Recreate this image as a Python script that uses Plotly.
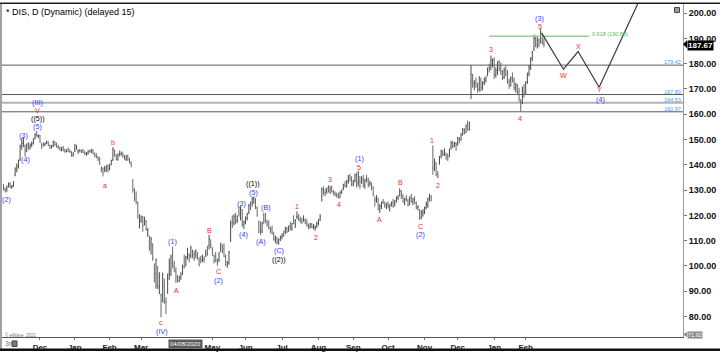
import numpy as np
import pandas as pd
import plotly.graph_objects as go

# ---------------- data ----------------
holidays = ["2019-11-28", "2019-12-25", "2020-01-01", "2020-01-20", "2020-02-17",
            "2020-04-10", "2020-05-25", "2020-07-03", "2020-09-07", "2020-11-26",
            "2020-12-25", "2021-01-01", "2021-01-18", "2021-02-15"]
first_day = "2019-10-30"
last_day = "2021-02-17"

opens = [
    # Oct 30 - Nov 29 2019
    131.0, 130.5, 130.3, 132.0, 132.4, 131.1, 131.8, 136.0, 138.0, 139.5, 142.0, 147.5, 148.5, 147.5, 146.0, 147.5, 147.0, 148.0, 148.5, 150.5, 152.0, 151.5,
    # Dec 2019
    151.5, 148.0, 148.2, 148.0, 148.8, 149.0, 147.5, 146.8, 147.5, 149.0, 148.5, 147.2, 146.8, 146.0, 147.0, 145.8, 145.3, 146.0, 145.5, 145.0, 143.8,
    # Jan 2020
    145.3, 146.4, 145.5, 145.8, 145.5, 145.5, 145.0, 144.4, 144.6, 145.4, 145.4, 145.8, 144.2, 143.8, 143.0, 142.4, 138.5, 138.0, 137.5, 138.2, 139.6,
    # Feb 2020
    138.5, 140.5, 142.0, 145.5, 143.5, 142.0, 144.5, 144.3, 144.0, 143.2, 142.3, 143.6, 141.8, 140.5, 134.0, 130.0, 126.5, 124.0, 115.5,
    # Mar 2020
    118.0, 119.0, 117.5, 117.5, 112.5, 109.5, 108.5, 108.0, 96.0, 97.0, 93.0, 92.0, 88.5, 86.0, 93.0, 86.0, 90.0, 97.0, 98.5, 101.0, 100.0, 98.0,
    # Apr 2020
    95.0, 94.0, 95.5, 97.5, 102.0, 100.5, 104.5, 104.0, 104.0, 105.5, 104.5, 104.5, 104.5, 102.0, 102.5, 102.5, 103.0, 104.0, 106.5, 108.0, 108.5,
    # May 2020
    106.5, 104.0, 103.5, 102.0, 102.5, 106.5, 107.5, 107.0, 103.5, 99.5, 101.0, 110.0, 117.0, 117.0, 119.5, 118.0, 121.5, 121.0, 122.0, 116.5,
    # Jun 2020
    117.5, 119.0, 121.0, 124.0, 125.0, 126.5, 126.0, 123.0, 117.0, 116.0, 113.5, 120.0, 119.0, 117.0, 117.5, 114.5, 114.5, 112.5, 110.5, 111.0, 109.0, 110.5,
    # Jul 2020
    111.5, 113.0, 113.5, 114.5, 114.0, 116.0, 115.0, 117.5, 116.5, 119.5, 119.0, 118.5, 118.0, 118.0, 118.0, 117.0, 116.0, 115.5, 116.5, 115.5, 115.0, 116.0,
    # Aug 2020
    116.8, 118.5, 127.5, 130.0, 129.0, 129.5, 131.0, 130.0, 131.0, 129.5, 128.8, 128.0, 127.8, 127.0, 129.0, 130.5, 132.0, 131.5, 133.5, 135.0, 134.0,
    # Sep 2020
    132.5, 134.0, 135.5, 133.0, 133.5, 133.0, 134.5, 132.0, 134.5, 134.0, 132.5, 131.5, 131.0, 126.0, 126.5, 126.5, 122.0, 123.5, 125.5, 124.5, 124.0,
    # Oct 2020
    124.5, 122.5, 124.5, 125.0, 124.5, 126.0, 127.0, 128.0, 129.5, 127.5, 124.5, 126.5, 126.0, 124.5, 127.0, 125.5, 126.5, 124.5, 123.0, 122.0, 119.0, 120.5,
    # Nov 2020
    121.5, 123.0, 124.0, 127.5, 127.5, 139.0, 139.5, 140.5, 136.5, 141.0, 143.5, 145.0, 144.5, 144.0, 143.5, 143.5, 147.0, 148.5, 147.5, 148.5,
    # Dec 2020
    148.5, 150.0, 150.0, 152.5, 153.5, 153.0, 155.5, 154.0, 173.0, 175.5, 172.0, 172.5, 171.5, 170.0, 173.5, 171.0, 172.5, 173.5, 175.5, 178.5, 178.0, 180.5,
    # Jan 2021
    181.5, 175.5, 176.5, 180.5, 178.5, 176.5, 174.5, 177.5, 176.5, 173.0, 171.5, 174.5, 173.5, 170.5, 171.0, 169.0, 165.0, 164.5, 169.0,
    # Feb 2021
    169.0, 173.0, 176.0, 178.5, 182.5, 185.5, 190.0, 187.5, 189.0, 189.0, 191.0, 188.0,
]
highs = [
    132.5, 131.0, 131.8, 133.0, 133.1, 132.0, 133.6, 139.0, 140.5, 142.0, 148.0, 150.5, 151.0, 148.0, 148.5, 149.0, 148.5, 149.2, 150.5, 152.5, 153.4, 152.0,
    151.8, 148.6, 148.9, 148.8, 149.6, 149.3, 148.0, 147.9, 149.6, 149.3, 148.8, 147.9, 147.2, 147.0, 147.4, 146.4, 146.0, 146.8, 146.1, 145.4, 145.0,
    148.2, 147.9, 146.0, 146.2, 146.1, 146.3, 145.5, 145.0, 145.8, 146.0, 146.3, 146.1, 144.9, 144.6, 143.5, 143.1, 139.4, 139.0, 139.5, 139.8, 140.2,
    140.3, 142.0, 147.0, 146.0, 144.2, 144.5, 145.6, 145.3, 144.9, 143.9, 143.8, 144.0, 142.8, 141.4, 134.3, 130.8, 129.5, 125.5, 120.5,
    120.0, 119.8, 119.5, 118.2, 115.0, 112.0, 111.5, 109.0, 101.0, 103.0, 100.0, 97.5, 89.0, 97.4, 95.0, 87.6, 97.0, 103.0, 104.5, 107.6, 102.0, 99.5,
    96.5, 96.0, 97.5, 100.5, 104.5, 104.0, 107.2, 105.0, 108.0, 106.5, 106.0, 106.5, 105.5, 103.5, 104.0, 104.5, 103.8, 106.5, 108.0, 112.3, 110.5,
    107.5, 104.5, 105.5, 103.0, 105.5, 109.2, 108.5, 109.0, 104.5, 102.0, 106.0, 118.0, 120.0, 120.5, 121.0, 120.0, 123.5, 123.8, 122.5, 118.0,
    119.5, 121.0, 124.5, 125.5, 127.3, 127.5, 126.8, 123.5, 118.0, 117.6, 117.5, 121.0, 121.0, 118.3, 118.0, 115.5, 116.0, 113.5, 112.0, 111.5, 110.8, 112.0,
    113.0, 114.0, 115.5, 115.5, 116.0, 117.5, 117.0, 120.0, 118.5, 121.6, 120.5, 119.5, 119.0, 120.0, 118.8, 118.5, 116.8, 117.0, 117.0, 116.5, 116.0, 117.5,
    118.5, 120.5, 131.0, 131.5, 130.5, 131.0, 132.0, 131.5, 131.8, 130.0, 129.5, 129.0, 129.0, 129.5, 130.2, 132.5, 133.5, 134.0, 136.0, 136.5, 135.5,
    134.0, 136.5, 137.0, 137.6, 135.5, 135.5, 136.0, 134.5, 136.0, 135.0, 133.8, 133.0, 131.5, 127.5, 128.0, 127.0, 124.5, 125.5, 126.5, 125.5, 125.0,
    125.5, 124.5, 125.5, 126.5, 126.0, 127.5, 128.0, 130.7, 130.0, 128.5, 127.0, 128.0, 126.5, 127.5, 128.5, 127.0, 127.5, 125.5, 124.0, 122.5, 122.0, 122.5,
    123.5, 125.5, 127.0, 128.5, 128.0, 147.7, 142.5, 141.0, 137.5, 143.5, 146.0, 145.8, 146.5, 144.8, 144.5, 146.5, 149.5, 149.5, 149.0, 149.0,
    151.0, 151.0, 152.5, 154.5, 154.5, 156.0, 157.5, 157.0, 179.4, 176.0, 173.5, 174.5, 172.5, 175.0, 174.5, 173.0, 174.5, 175.0, 178.5, 180.0, 183.2, 182.0,
    182.5, 178.5, 181.0, 181.5, 180.5, 177.5, 178.5, 179.0, 177.5, 174.0, 175.0, 176.5, 174.5, 172.5, 172.0, 170.5, 166.0, 171.0, 172.0,
    173.0, 176.5, 179.5, 182.5, 185.0, 191.5, 191.0, 190.5, 190.0, 193.7, 192.0, 190.0,
]
lows = [
    129.8, 129.0, 129.3, 131.0, 130.9, 130.5, 131.2, 135.5, 137.0, 138.5, 141.5, 146.0, 147.0, 143.2, 145.0, 146.0, 146.0, 147.0, 148.0, 150.0, 151.0, 150.5,
    148.6, 146.3, 147.2, 147.4, 148.2, 147.4, 146.2, 146.5, 147.0, 147.5, 146.8, 146.3, 145.6, 145.3, 145.4, 144.8, 144.9, 145.1, 144.7, 143.2, 143.2,
    145.0, 146.0, 144.3, 144.9, 144.6, 144.6, 143.9, 143.5, 144.0, 144.8, 144.6, 144.2, 143.0, 142.6, 141.5, 140.0, 137.0, 135.4, 137.1, 137.2, 137.0,
    137.8, 139.8, 141.5, 143.3, 141.8, 141.6, 143.2, 143.6, 142.8, 142.0, 141.5, 141.7, 140.6, 139.0, 129.0, 125.5, 124.5, 118.8, 114.8,
    117.0, 113.5, 116.0, 114.0, 111.5, 106.0, 104.5, 102.0, 93.5, 91.0, 90.8, 88.9, 79.7, 85.6, 85.0, 81.0, 89.0, 94.5, 96.0, 99.0, 97.5, 93.2,
    93.5, 93.6, 94.5, 96.5, 99.0, 99.8, 102.5, 101.5, 103.0, 103.0, 102.0, 103.0, 102.5, 99.8, 101.0, 101.5, 101.3, 103.5, 104.0, 106.5, 107.0,
    104.0, 101.0, 101.5, 100.1, 101.5, 105.5, 105.0, 103.5, 100.0, 99.4, 100.5, 109.5, 115.0, 116.0, 116.5, 117.0, 119.5, 118.0, 115.5, 114.6,
    116.5, 118.0, 120.5, 122.0, 123.5, 124.5, 122.5, 119.5, 113.0, 112.3, 113.0, 116.5, 117.0, 115.5, 114.5, 113.0, 112.4, 110.0, 109.0, 108.5, 108.5, 109.8,
    110.5, 111.5, 112.5, 113.0, 113.5, 114.0, 114.0, 116.5, 115.0, 118.5, 117.8, 117.0, 116.5, 117.5, 116.5, 115.5, 114.5, 114.8, 115.0, 114.5, 113.9, 115.0,
    116.0, 117.7, 125.5, 128.0, 127.5, 128.5, 129.0, 128.5, 129.0, 128.0, 127.5, 127.0, 126.7, 126.8, 128.5, 130.0, 131.0, 131.0, 132.5, 133.5, 131.5,
    131.5, 133.0, 131.0, 131.5, 130.5, 132.5, 131.0, 130.5, 133.0, 131.0, 131.5, 130.0, 127.5, 123.5, 125.0, 122.0, 121.0, 122.5, 124.5, 123.0, 122.5,
    122.8, 121.5, 123.5, 123.0, 123.5, 125.0, 126.0, 127.5, 126.5, 125.0, 124.0, 125.5, 123.5, 124.0, 125.0, 124.0, 124.5, 122.5, 122.0, 118.2, 118.5, 119.5,
    120.5, 122.5, 123.0, 125.5, 125.5, 136.0, 137.5, 135.5, 134.7, 140.0, 142.5, 143.5, 143.5, 142.0, 141.5, 143.0, 146.0, 146.5, 147.0, 145.5,
    147.5, 148.5, 149.5, 151.5, 152.0, 152.5, 153.5, 153.5, 166.0, 170.5, 169.5, 170.5, 168.5, 169.0, 169.0, 169.5, 171.5, 172.5, 175.0, 176.5, 177.5, 178.5,
    174.0, 174.5, 175.5, 177.0, 175.5, 173.5, 174.0, 175.0, 172.0, 170.0, 171.0, 172.5, 169.5, 168.6, 168.0, 165.0, 160.97, 164.0, 166.5,
    168.0, 172.0, 175.0, 177.5, 181.0, 185.0, 186.5, 186.0, 186.5, 188.0, 187.5, 186.5,
]
closes = [
    130.4, 129.9, 131.4, 132.3, 131.2, 131.7, 133.1, 138.3, 139.5, 141.5, 147.5, 148.5, 148.8, 145.5, 147.8, 146.8, 147.8, 148.3, 150.2, 152.0, 151.8, 151.6,
    149.0, 147.9, 147.6, 148.3, 149.0, 147.6, 146.6, 147.5, 149.2, 148.0, 147.0, 146.6, 146.0, 146.7, 145.6, 145.2, 145.8, 145.3, 145.1, 143.8, 144.6,
    148.2, 146.5, 145.7, 145.4, 145.0, 144.8, 144.2, 144.7, 145.4, 145.2, 145.9, 144.4, 143.6, 143.0, 142.2, 140.6, 138.1, 136.9, 138.8, 139.5, 138.3,
    139.6, 141.6, 145.9, 144.0, 142.2, 144.2, 143.9, 144.6, 143.2, 142.6, 143.5, 142.0, 141.0, 140.0, 130.0, 126.0, 125.0, 119.0, 117.7,
    119.5, 116.0, 119.0, 114.5, 114.2, 107.0, 110.5, 103.0, 94.0, 102.5, 91.5, 96.0, 84.0, 92.0, 86.0, 85.8, 96.5, 98.0, 103.5, 100.0, 98.5, 95.5,
    94.0, 95.8, 96.5, 99.8, 99.5, 103.5, 104.8, 102.3, 107.2, 104.0, 103.0, 106.0, 103.0, 100.5, 102.3, 103.0, 102.5, 105.0, 104.5, 110.5, 108.2,
    105.0, 102.0, 102.0, 101.0, 105.0, 108.5, 106.0, 103.8, 100.5, 101.5, 105.5, 117.0, 115.5, 119.5, 117.5, 118.5, 120.5, 122.5, 116.0, 117.3,
    118.8, 120.5, 124.0, 123.0, 126.5, 127.0, 123.0, 120.0, 113.8, 115.0, 117.0, 118.0, 117.5, 116.5, 115.0, 114.0, 113.0, 110.5, 111.5, 109.0, 110.5, 111.5,
    112.0, 112.0, 115.0, 113.5, 115.5, 115.0, 116.8, 117.0, 118.0, 119.5, 118.5, 117.8, 117.2, 118.0, 117.0, 116.0, 115.2, 116.5, 115.3, 116.0, 115.5, 116.9,
    118.0, 119.5, 130.2, 129.5, 129.0, 130.5, 129.5, 131.0, 129.5, 128.8, 128.2, 127.8, 127.0, 129.2, 129.8, 132.0, 131.5, 133.5, 135.0, 134.0, 132.0,
    133.5, 136.0, 132.5, 135.5, 131.5, 134.0, 131.5, 133.8, 134.0, 132.0, 132.8, 131.0, 128.5, 126.0, 127.0, 122.5, 123.5, 125.0, 125.0, 124.0, 124.1,
    123.5, 124.0, 124.8, 123.5, 125.8, 126.8, 127.2, 129.5, 127.0, 125.5, 126.5, 126.0, 124.0, 127.0, 125.5, 126.5, 125.0, 123.0, 123.5, 119.0, 121.0, 121.3,
    122.5, 124.5, 126.5, 127.5, 127.0, 138.5, 141.0, 136.0, 135.5, 142.0, 145.5, 144.0, 145.0, 143.0, 142.5, 146.0, 148.5, 147.5, 148.5, 148.0,
    150.5, 150.0, 152.0, 154.0, 152.5, 155.5, 154.0, 156.8, 175.7, 171.5, 172.5, 171.0, 169.5, 174.5, 170.5, 172.5, 173.5, 174.5, 178.0, 177.5, 181.5, 181.2,
    175.5, 177.5, 180.0, 178.0, 177.0, 174.5, 177.5, 176.0, 173.0, 171.0, 174.0, 173.5, 170.5, 171.5, 169.0, 166.0, 163.0, 170.0, 168.1,
    172.5, 175.5, 178.5, 182.0, 184.5, 190.0, 187.0, 189.5, 187.5, 190.5, 188.5, 187.67,
]

# month labels on the time axis (April is hidden under the cursor date box)
month_keys = ["2019-12", "2020-01", "2020-02", "2020-03", "2020-05", "2020-06", "2020-07",
              "2020-08", "2020-09", "2020-10", "2020-11", "2020-12", "2021-01", "2021-02"]
month_text = ["Dec", "Jan", "Feb", "Mar", "May", "Jun", "Jul", "Aug", "Sep", "Oct", "Nov", "Dec", "Jan", "Feb"]

price_ticks = [80, 90, 100, 110, 120, 130, 140, 150, 160, 170, 180, 190, 200]

levels = [179.42, 167.80, 164.53, 160.97]
fib_level = 190.88
fib_text = "0.618 (190.88)"
low_tag = "71.92"

# projected path (bar index, price): 5 -> W -> X -> Y -> beyond
proj_idx = [324.6, 337.8, 346.6, 359.3, 386.0]
proj_price = [192.2, 177.8, 184.8, 170.7, 208.5]
fib_start, fib_end = 292.9, 353.2

# wave labels: text, bar index, price, colour key
wave_text = ["(2)", "(3)", "(4)", "(5)", "((5))", "V", "(III)", "a", "b", "c", "(IV)",
             "(1)", "A", "B", "C", "(2)", "(3)", "(4)", "(5)", "((1))", "(B)", "(A)", "(C)", "((2))",
             "1", "2", "3", "4", "(1)", "5", "A", "B", "C", "(2)", "1", "2",
             "3", "4", "(3)", "5", "W", "X", "Y", "(4)"]
wave_idx = [1.5, 11.9, 13.0, 20.6, 20.6, 20.6, 20.6, 61.2, 66.2, 95.0, 95.6,
            101.8, 104.2, 124.1, 129.6, 129.6, 143.7, 144.7, 150.7, 150.7, 158.4, 155.2, 166.2, 166.4,
            177.2, 188.5, 196.9, 202.6, 214.5, 214.6, 226.7, 239.6, 251.7, 251.7, 258.7, 262.1,
            293.9, 311.6, 323.2, 323.7, 338.1, 346.6, 359.4, 360.0]
wave_price = [126.4, 151.6, 142.1, 155.3, 158.3, 161.5, 164.6, 132.0, 148.7, 77.6, 73.9,
              109.5, 90.4, 114.1, 97.7, 94.2, 124.8, 112.4, 129.1, 132.7, 123.1, 109.5, 106.1, 102.6,
              123.5, 111.4, 134.2, 124.4, 142.4, 138.9, 118.5, 132.9, 115.7, 112.4, 149.6, 132.0,
              185.6, 158.4, 198.0, 194.7, 175.4, 186.9, 169.8, 165.8]
wave_col = ["b", "b", "b", "b", "k", "r", "b", "r", "r", "r", "b",
            "b", "r", "r", "r", "b", "b", "b", "b", "k", "b", "b", "b", "k",
            "r", "r", "r", "r", "b", "r", "r", "r", "r", "b", "r", "r",
            "r", "r", "b", "r", "r", "r", "r", "b"]

cursor_date = "2020-04-08"
title_text = "* DIS, D (Dynamic) (delayed 15)"

# ---------------- build ----------------
dates = pd.bdate_range(first_day, last_day)
dates = dates[~dates.isin(pd.to_datetime(holidays))]
n = len(closes)
x = list(range(n))
ym = np.array(dates.strftime("%Y-%m"))
tickvals = [int(np.argmax(ym == k)) for k in month_keys]
cursor_idx = int(np.argmax(np.array(dates.strftime("%Y-%m-%d")) == cursor_date))
cursor_text = pd.Timestamp(cursor_date).strftime("%m/%d/%Y")

COL = {"b": "#3b3bff", "r": "#ff2a2a", "k": "#000000"}


# pixel -> paper helpers (plot area: x 2..683, y 4..340)
def px(p):
    return (p - 2) / 681.0


def py(p):
    return (340 - p) / 336.0


fig = go.Figure()
fig.add_trace(go.Ohlc(x=x, open=opens, high=highs, low=lows, close=closes,
                      increasing_line_color="#4a4a4a", decreasing_line_color="#6a6a6a",
                      line_width=1, tickwidth=0.35, hoverinfo="skip", showlegend=False))

fig.add_trace(go.Scatter(x=[fib_start, fib_end], y=[fib_level, fib_level], mode="lines",
                         line=dict(color="#93cf93", width=1.5), hoverinfo="skip", showlegend=False))
fig.add_trace(go.Scatter(x=proj_idx, y=proj_price, mode="lines",
                         line=dict(color="#3a3a3a", width=1.2), hoverinfo="skip", showlegend=False))

shapes = []
for lv in levels:
    light = abs(lv - 164.53) < 1e-6
    shapes.append(dict(type="line", xref="paper", yref="y", x0=0, x1=1, y0=lv, y1=lv,
                       line=dict(color="#b4b4b4" if light else "#5a5a5a", width=2 if light else 1),
                       layer="below"))
# frame
shapes.append(dict(type="line", xref="paper", yref="paper", x0=px(0), x1=px(720), y0=py(3.3), y1=py(3.3),
                   line=dict(color="#1e1e1e", width=1.5)))
shapes.append(dict(type="line", xref="paper", yref="paper", x0=px(1), x1=px(1), y0=py(354), y1=py(3.3),
                   line=dict(color="#444", width=1)))
shapes.append(dict(type="rect", xref="paper", yref="paper", x0=px(0), x1=px(720), y0=py(354), y1=py(351.5),
                   line=dict(width=0), fillcolor="#111"))
# top-right icon
shapes.append(dict(type="rect", xref="paper", yref="paper", x0=px(674.5), x1=px(679.5), y0=py(12.5), y1=py(7.5),
                   line=dict(color="#444", width=1), fillcolor="#9a9a9a"))
# bottom-left icon
shapes.append(dict(type="rect", xref="paper", yref="paper", x0=px(12), x1=px(17), y0=py(349.5), y1=py(344),
                   line=dict(color="#444", width=1), fillcolor="#777"))
# last price arrow
last = closes[-1]
shapes.append(dict(type="path", xref="paper", yref="y",
                   path=f"M {px(683)} {last} L {px(687)} {last + 1.6} L {px(687)} {last - 1.6} Z",
                   line=dict(width=0), fillcolor="#000"))
# bottom tag arrow
shapes.append(dict(type="path", xref="paper", yref="paper",
                   path=f"M {px(683)} {py(337.5)} L {px(687)} {py(335)} L {px(687)} {py(340)} Z",
                   line=dict(width=0), fillcolor="#8a8a8a"))

ann = []
ann.append(dict(text=title_text, xref="paper", yref="paper", x=px(4), y=py(11.7), xanchor="left",
                yanchor="middle", showarrow=False, font=dict(size=9, color="#000")))
for t, xi, yv, c in zip(wave_text, wave_idx, wave_price, wave_col):
    ann.append(dict(text=t, x=xi, y=yv, xref="x", yref="y", showarrow=False, xanchor="center",
                    yanchor="middle", borderpad=0, font=dict(size=7.2, color=COL[c])))
for lv in levels:
    ann.append(dict(text=f"{lv:.2f}", xref="paper", yref="y", x=0.999, y=lv, xanchor="right",
                    yanchor="middle", yshift=3, showarrow=False, borderpad=0,
                    font=dict(size=5.5, color="#3d9bff")))
ann.append(dict(text=fib_text, x=fib_end + 1.2, y=fib_level, xref="x", yref="y", xanchor="left",
                yanchor="middle", yshift=2, showarrow=False, borderpad=0,
                font=dict(size=5.5, color="#5cb85c")))
ann.append(dict(text=cursor_text, x=cursor_idx, y=py(347.2), xref="x", yref="paper", xanchor="center",
                yanchor="middle", showarrow=False, bgcolor="#5a5a5a", borderpad=1,
                font=dict(size=6, color="#ffffff")))
ann.append(dict(text=f"<b>{last:.2f}</b>", xref="paper", yref="y", x=px(686.5), y=last, xanchor="left",
                yanchor="middle", yshift=-1, showarrow=False, bgcolor="#000", borderpad=0,
                font=dict(size=8, color="#ffffff")))
ann.append(dict(text=low_tag, xref="paper", yref="paper", x=px(686.5), y=py(337.5), xanchor="left",
                yanchor="middle", showarrow=False, bgcolor="#8a8a8a", borderpad=0,
                font=dict(size=5.5, color="#ffffff")))
ann.append(dict(text="© eWave, 2021", xref="paper", yref="paper", x=px(3), y=py(337.5), xanchor="left",
                yanchor="middle", showarrow=False, font=dict(size=4.5, color="#777")))
ann.append(dict(text="3m", xref="paper", yref="paper", x=px(3), y=py(347), xanchor="left",
                yanchor="middle", showarrow=False, font=dict(size=6.5, color="#777")))

fig.update_layout(
    width=720, height=354, margin=dict(l=2, r=37, t=4, b=14),
    paper_bgcolor="#ffffff", plot_bgcolor="#ffffff", showlegend=False,
    font=dict(family="Arial, Liberation Sans, sans-serif", size=9, color="#111"),
    shapes=shapes, annotations=ann, hovermode=False,
)
fig.update_xaxes(range=[-0.92, 409.9], tickvals=tickvals, ticktext=month_text, showgrid=False,
                 zeroline=False, showline=True, linecolor="#555", linewidth=1, ticks="outside",
                 ticklen=2, tickcolor="#777", tickfont=dict(size=8, color="#1a1a1a", weight="bold"),
                 rangeslider=dict(visible=False), fixedrange=True)
fig.update_yaxes(side="right", range=[71.9, 203.6], tickvals=price_ticks,
                 ticktext=[f"{v:.2f}" for v in price_ticks], showgrid=False, zeroline=False,
                 showline=True, linecolor="#9a9a9a", linewidth=1, ticks="outside", ticklen=3,
                 tickcolor="#777", tickfont=dict(size=9, color="#111", weight="bold"), fixedrange=True)

fig.write_html("out.html")
